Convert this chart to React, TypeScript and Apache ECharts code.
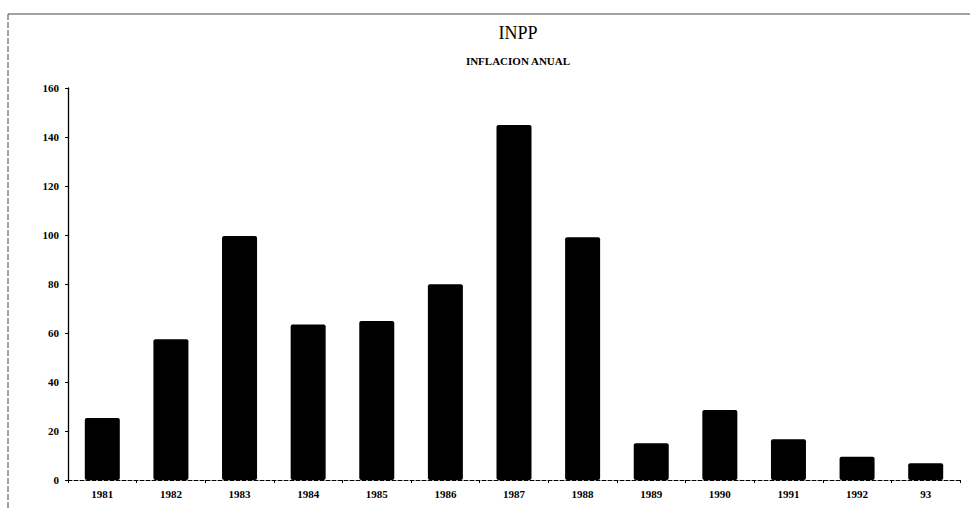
import React, { useEffect, useRef } from "react";
import * as echarts from "echarts";

const categories = ["1981", "1982", "1983", "1984", "1985", "1986", "1987", "1988", "1989", "1990", "1991", "1992", "93"];
const inflation = [25.3, 57.4, 99.6, 63.5, 64.9, 79.9, 144.9, 99.1, 15.0, 28.6, 16.6, 9.5, 6.8];
const titleText = "INPP";
const subtitleText = "INFLACION ANUAL";

export default function App() {
  const ref = useRef<HTMLDivElement>(null);
  useEffect(() => {
    if (!ref.current) return;
    const chart = echarts.init(ref.current, undefined, { renderer: "svg" });
    const font = "'Liberation Serif', serif";
    chart.setOption({
      animation: false,
      backgroundColor: "#ffffff",
      title: [
        {
          text: titleText,
          left: 513,
          top: 19,
          textAlign: "center",
          textStyle: { fontFamily: font, fontSize: 18, fontWeight: "normal", color: "#000" },
        },
        {
          text: subtitleText,
          left: 513,
          top: 50,
          textAlign: "center",
          textStyle: { fontFamily: font, fontSize: 11, fontWeight: "bold", color: "#000" },
        },
      ],
      grid: { left: 68, right: 10, top: 88, bottom: 29, containLabel: false },
      xAxis: {
        type: "category",
        data: categories,
        axisLine: { lineStyle: { color: "#000", type: "dashed", width: 1 } },
        axisTick: { show: true, length: 3, lineStyle: { color: "#000" } },
        axisLabel: { fontFamily: font, fontSize: 11, fontWeight: "bold", color: "#000", margin: 8 },
      },
      yAxis: {
        type: "value",
        min: 0,
        max: 160,
        interval: 20,
        splitLine: { show: false },
        axisLine: { show: true, lineStyle: { color: "#000", width: 1.3 } },
        axisTick: { show: true, length: 3, lineStyle: { color: "#000" } },
        axisLabel: { fontFamily: font, fontSize: 11, fontWeight: "bold", color: "#000", margin: 9 },
      },
      series: [
        {
          type: "bar",
          data: inflation,
          barWidth: 35,
          itemStyle: { color: "#000", borderRadius: 2 },
        },
      ],
      graphic: [
        { type: "line", shape: { x1: 8, y1: 14, x2: 970, y2: 14 }, style: { stroke: "#444", lineWidth: 1 } },
        { type: "line", shape: { x1: 8, y1: 14, x2: 8, y2: 509 }, style: { stroke: "#444", lineWidth: 1, lineDash: [6, 2] } },
      ],
    });
    return () => chart.dispose();
  }, []);
  return (
    <div style={{ position: "fixed", left: 0, top: 0, width: 970, height: 509, background: "#fff" }}>
      <div ref={ref} style={{ width: 970, height: 509 }} />
    </div>
  );
}
